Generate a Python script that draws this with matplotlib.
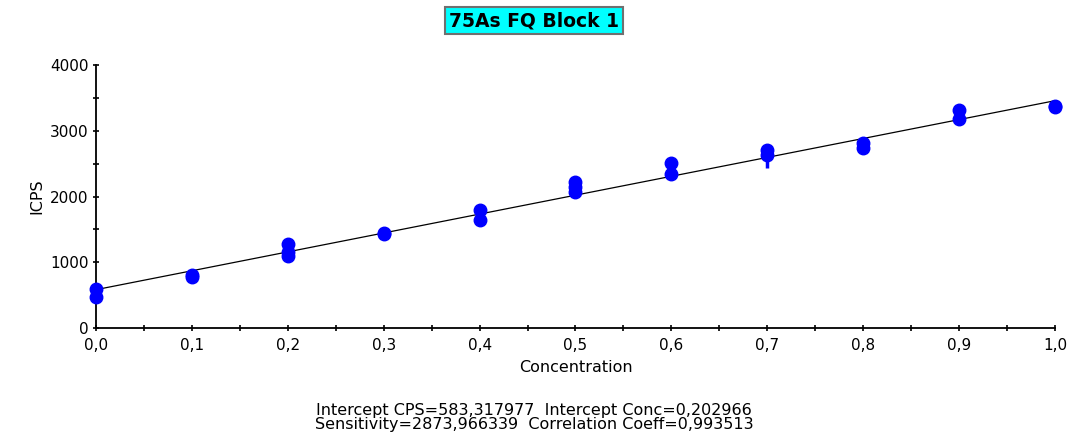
import numpy as np
import matplotlib.pyplot as plt
from matplotlib.ticker import MultipleLocator, FuncFormatter

plt.rcParams['font.family'] = ['DejaVu Sans']

# measured standards (concentration, ICPS)
conc = [0.0, 0.0, 0.1, 0.1, 0.2, 0.2, 0.2, 0.3, 0.3, 0.4, 0.4,
        0.5, 0.5, 0.5, 0.6, 0.6, 0.7, 0.7, 0.8, 0.8, 0.9, 0.9, 1.0, 1.0]
icps = [600, 470, 810, 770, 1280, 1150, 1100, 1445, 1430, 1790, 1645,
        2215, 2140, 2065, 2510, 2350, 2700, 2630, 2810, 2740, 3320, 3175, 3375, 3355]

# odd point at 0.7 with a downward tail
tail_x = [0.7]
tail_lo = [2430]
tail_hi = [2620]

intercept = 583.317977
sensitivity = 2873.966339

fig = plt.figure(figsize=(10.68, 4.32), dpi=100)
ax = fig.add_axes([0.0899, 0.2407, 0.8979, 0.6088])

fit_x = np.array([0.0, 1.0])
ax.plot(fit_x, intercept + sensitivity * fit_x, color='black', lw=0.9, zorder=2)
ax.vlines(tail_x, tail_lo, tail_hi, color='#0000ff', lw=2.5, zorder=3)
ax.plot(conc, icps, 'o', color='#0000ff', ms=9, zorder=4, clip_on=False)

ax.set_xlim(0, 1.0)
ax.set_ylim(0, 4000)
for s in ['top', 'right']:
    ax.spines[s].set_visible(False)
ax.spines['left'].set_linewidth(1.3)
ax.spines['bottom'].set_linewidth(1.3)

ax.xaxis.set_major_locator(MultipleLocator(0.1))
ax.xaxis.set_minor_locator(MultipleLocator(0.05))
ax.yaxis.set_major_locator(MultipleLocator(1000))
ax.yaxis.set_minor_locator(MultipleLocator(500))
ax.xaxis.set_major_formatter(FuncFormatter(lambda v, p: f'{v:.1f}'.replace('.', ',')))
ax.tick_params(which='both', direction='inout', length=5, width=1.2, labelsize=11)
ax.tick_params(axis='x', pad=5)
ax.tick_params(axis='y', pad=3)

ax.set_xlabel('Concentration', fontsize=11.5, labelpad=5)
ax.set_ylabel('ICPS', fontsize=11.5, labelpad=4)

fig.text(0.5, 0.952, '75As FQ Block 1', ha='center', va='center',
         fontsize=13.5, fontweight='bold',
         bbox=dict(boxstyle='square,pad=0.22', facecolor='#00ffff',
                   edgecolor='#707070', linewidth=1.5))

fig.text(0.5, 0.050, 'Intercept CPS=583,317977  Intercept Conc=0,202966',
         ha='center', va='center', fontsize=11.5)
fig.text(0.5, 0.017, 'Sensitivity=2873,966339  Correlation Coeff=0,993513',
         ha='center', va='center', fontsize=11.5)

fig.savefig('out.png', dpi=100)
